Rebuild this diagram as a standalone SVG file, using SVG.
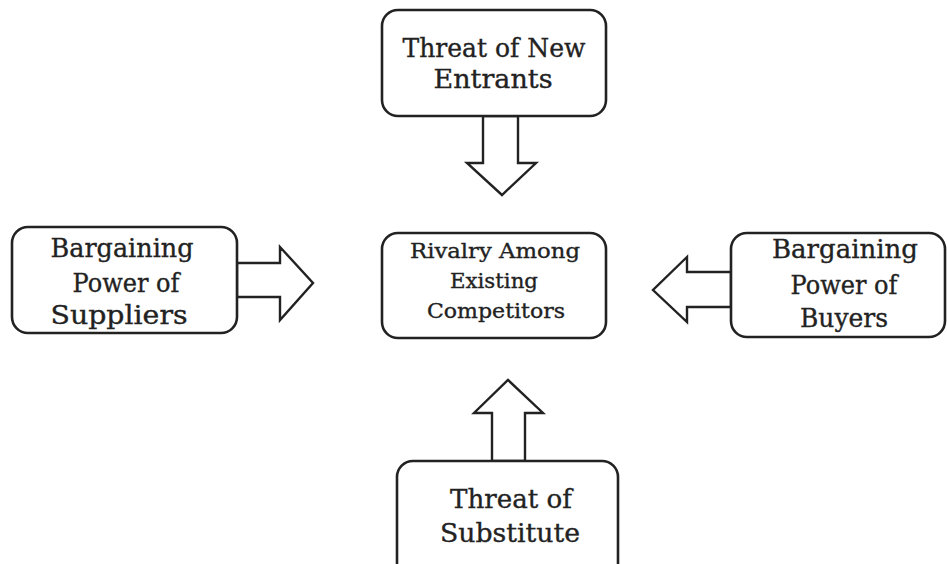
<svg xmlns="http://www.w3.org/2000/svg" width="947" height="564" viewBox="0 0 947 564">
  <style>
    .box { fill: #ffffff; stroke: #222222; stroke-width: 2.6; }
    .arrow { fill: #ffffff; stroke: #222222; stroke-width: 2.4; stroke-linejoin: miter; }
    .lbl { font-family: "DejaVu Serif", "Liberation Serif", serif; fill: #222222; stroke: #222222; stroke-width: 0.35; text-anchor: middle; }
    .big { font-size: 26px; }
    .mid { font-size: 21px; }
  </style>
  <rect width="947" height="564" fill="#ffffff"/>

  <!-- connectors: hollow block arrows pointing at the centre box -->
  <g id="connectors">
    <polygon class="arrow" points="483,116 518,116 518,163 536,163 502,195 467,163 483,163"/>
    <polygon class="arrow" points="237,263 280,263 280,247 313,283 280,320 280,297 237,297"/>
    <polygon class="arrow" points="731,272 687,272 687,257 653,290 687,322 687,307 731,307"/>
    <polygon class="arrow" points="492,461 492,413 474,413 508,380 543,413 525,413 525,461"/>
  </g>

  <g id="new-entrants">
    <rect class="box" x="382" y="10" width="224" height="106" rx="16"/>
    <text class="lbl big" x="494" y="57" textLength="183" lengthAdjust="spacingAndGlyphs">Threat of New</text>
    <text class="lbl big" x="493" y="88" textLength="119" lengthAdjust="spacingAndGlyphs">Entrants</text>
  </g>

  <g id="suppliers">
    <rect class="box" x="12" y="227" width="225" height="106" rx="16"/>
    <text class="lbl big" x="122" y="257" textLength="143" lengthAdjust="spacingAndGlyphs">Bargaining</text>
    <text class="lbl big" x="126" y="292" textLength="107" lengthAdjust="spacingAndGlyphs">Power of</text>
    <text class="lbl big" x="119" y="324" textLength="137" lengthAdjust="spacingAndGlyphs">Suppliers</text>
  </g>

  <g id="rivalry">
    <rect class="box" x="382" y="233" width="224" height="105" rx="16"/>
    <text class="lbl mid" x="495" y="258" textLength="170" lengthAdjust="spacingAndGlyphs">Rivalry Among</text>
    <text class="lbl mid" x="494" y="288" textLength="88" lengthAdjust="spacingAndGlyphs">Existing</text>
    <text class="lbl mid" x="496" y="318" textLength="138" lengthAdjust="spacingAndGlyphs">Competitors</text>
  </g>

  <g id="buyers">
    <rect class="box" x="731" y="233" width="214" height="104" rx="16"/>
    <text class="lbl big" x="845" y="258" textLength="146" lengthAdjust="spacingAndGlyphs">Bargaining</text>
    <text class="lbl big" x="844" y="294" textLength="107" lengthAdjust="spacingAndGlyphs">Power of</text>
    <text class="lbl big" x="844" y="327" textLength="88" lengthAdjust="spacingAndGlyphs">Buyers</text>
  </g>

  <g id="substitute">
    <rect class="box" x="397" y="461" width="221" height="130" rx="16"/>
    <text class="lbl big" x="511" y="508" textLength="122" lengthAdjust="spacingAndGlyphs">Threat of</text>
    <text class="lbl big" x="510" y="542" textLength="140" lengthAdjust="spacingAndGlyphs">Substitute</text>
  </g>
</svg>
